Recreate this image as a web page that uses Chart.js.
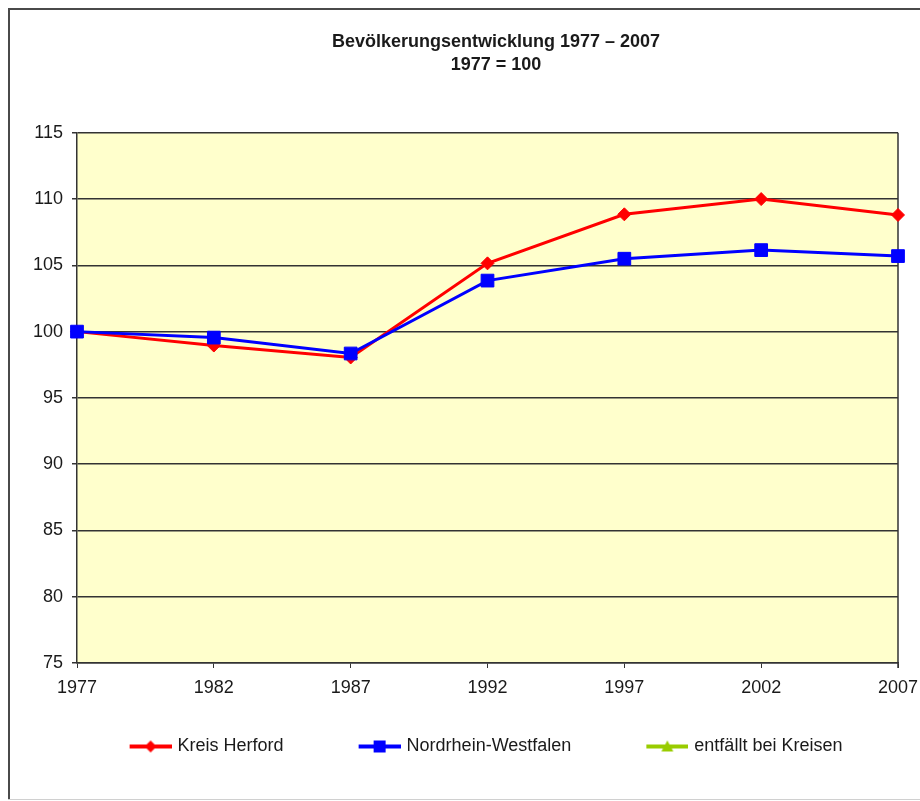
<!DOCTYPE html>
<html>
<head>
<meta charset="utf-8">
<script src="https://cdn.jsdelivr.net/npm/chart.js@4.4.1/dist/chart.umd.min.js"></script>
<style>
  html, body { margin: 0; padding: 0; background: #fff; }
  #wrap { width: 920px; height: 801px; }
</style>
</head>
<body>
<div id="wrap"><canvas id="chart-area" width="920" height="801"></canvas></div>
<script>
var years = ['1977', '1982', '1987', '1992', '1997', '2002', '2007'];
var herford = [100, 98.95, 98.05, 105.15, 108.85, 110.0, 108.8];
var nrw = [100, 99.55, 98.35, 103.85, 105.5, 106.15, 105.7];
var kreiseNone = [];
var seriesNames = ['Kreis Herford', 'Nordrhein-Westfalen', 'entfällt bei Kreisen'];
var yTicks = { min: 75, max: 115, step: 5 };

var colors = {
    red: '#ff0000',
    blue: '#0000ff',
    green: '#99cc00',
    grid: '#333333',
    plot: '#ffffcc',
    text: '#1a1a1a'
};

var FONT = "'Liberation Sans', Arial, sans-serif";
var GAP = 64;      // transparent space in front of each legend marker
var MARK_W = 42;   // visible legend line length

// legend marker: line with symbol in the middle
function legendMarker(color, shape) {
    var c = document.createElement('canvas');
    c.width = GAP + MARK_W + 6;
    c.height = 16;
    var g = c.getContext('2d');
    var y = 8, x0 = GAP + 6, cx = x0 + MARK_W / 2;
    g.strokeStyle = color;
    g.lineWidth = 4;
    g.beginPath();
    g.moveTo(x0, y);
    g.lineTo(x0 + MARK_W, y);
    g.stroke();
    g.fillStyle = color;
    g.beginPath();
    if (shape === 'diamond') {
        g.moveTo(cx, y - 6); g.lineTo(cx + 6, y); g.lineTo(cx, y + 6); g.lineTo(cx - 6, y);
    } else if (shape === 'square') {
        g.rect(cx - 6, y - 6, 12, 12);
    } else {
        g.moveTo(cx, y - 6); g.lineTo(cx + 6, y + 5); g.lineTo(cx - 6, y + 5);
    }
    g.closePath();
    g.fill();
    return c;
}
var markers = [
    legendMarker(colors.red, 'diamond'),
    legendMarker(colors.blue, 'square'),
    legendMarker(colors.green, 'triangle')
];

// frame, plot background and plot border
var framePlugin = {
    id: 'frame',
    afterLayout: function (chart) {
        // Excel centres title and legend over the plot area
        var t = chart.titleBlock;
        t.left += 28; t.right += 28;
        var l = chart.legend;
        l.left -= 15.5; l.right -= 15.5;
    },
    beforeDraw: function (chart) {
        var ctx = chart.ctx, a = chart.chartArea;
        ctx.save();
        ctx.fillStyle = '#ffffff';
        ctx.fillRect(0, 0, chart.width, chart.height);
        ctx.fillStyle = '#4a4a4a';
        ctx.fillRect(8, 8, chart.width - 8, 2);
        ctx.fillRect(8, 8, 2, chart.height - 10);
        ctx.fillStyle = '#d0d0d0';
        ctx.fillRect(8, chart.height - 2, chart.width - 8, 1);
        ctx.fillStyle = colors.plot;
        ctx.fillRect(a.left, a.top, a.right - a.left, a.bottom - a.top);
        ctx.restore();
    },
    beforeDatasetsDraw: function (chart) {
        var ctx = chart.ctx, a = chart.chartArea;
        ctx.save();
        ctx.strokeStyle = colors.grid;
        ctx.lineWidth = 1.5;
        ctx.beginPath();
        ctx.moveTo(a.right, a.top);
        ctx.lineTo(a.right, a.bottom + 5);
        ctx.stroke();
        ctx.restore();
    }
};

var config = {
    type: 'line',
    data: {
        labels: years,
        datasets: [{
            label: seriesNames[0],
            data: herford,
            borderColor: colors.red,
            backgroundColor: colors.red,
            borderWidth: 3,
            pointStyle: 'rectRot',
            pointRadius: 6.5,
            pointBorderWidth: 1,
            pointHoverRadius: 6.5,
            tension: 0,
            order: 2
        }, {
            label: seriesNames[1],
            data: nrw,
            borderColor: colors.blue,
            backgroundColor: colors.blue,
            borderWidth: 3,
            pointStyle: 'rect',
            pointRadius: 9,
            pointBorderWidth: 1,
            pointHoverRadius: 9,
            tension: 0,
            order: 1
        }, {
            label: seriesNames[2],
            data: kreiseNone,
            borderColor: colors.green,
            backgroundColor: colors.green,
            borderWidth: 3,
            pointStyle: 'triangle',
            pointRadius: 6,
            order: 3
        }]
    },
    options: {
        responsive: false,
        animation: false,
        devicePixelRatio: 1,
        layout: {
            padding: { top: 30, left: 20, right: 4, bottom: 35.5 }
        },
        plugins: {
            title: {
                display: true,
                text: ['Bevölkerungsentwicklung 1977 – 2007', '1977 = 100'],
                color: colors.text,
                font: { family: FONT, size: 18, weight: 'bold', lineHeight: 1.3 },
                padding: { top: 0, bottom: 56 }
            },
            legend: {
                position: 'bottom',
                labels: {
                    usePointStyle: true,
                    pointStyleWidth: GAP + MARK_W,
                    padding: 8,
                    color: colors.text,
                    font: { family: FONT, size: 18 },
                    sort: function (a, b) { return a.datasetIndex - b.datasetIndex; },
                    generateLabels: function (chart) {
                        var items = Chart.defaults.plugins.legend.labels.generateLabels(chart);
                        items.forEach(function (it) {
                            it.pointStyle = markers[it.datasetIndex];
                        });
                        return items;
                    }
                }
            },
            tooltip: { enabled: false }
        },
        scales: {
            x: {
                offset: false,
                afterFit: function (s) {
                    s.height = 66.5;
                    s.paddingRight = 22;
                    s.paddingLeft = 0;
                },
                grid: {
                    drawOnChartArea: false,
                    drawTicks: true,
                    tickLength: 5,
                    color: colors.grid
                },
                border: { color: colors.grid, width: 1.5 },
                ticks: {
                    padding: 9,
                    maxRotation: 0,
                    color: colors.text,
                    font: { family: FONT, size: 18 }
                }
            },
            y: {
                min: yTicks.min,
                max: yTicks.max,
                afterFit: function (s) { s.width = 57; },
                grid: {
                    color: colors.grid,
                    lineWidth: 1.5,
                    tickLength: 5
                },
                border: { color: colors.grid, width: 1.5 },
                ticks: {
                    stepSize: yTicks.step,
                    padding: 9,
                    color: colors.text,
                    font: { family: FONT, size: 18 }
                }
            }
        }
    },
    plugins: [framePlugin]
};

var ctx = document.getElementById('chart-area').getContext('2d');
var chart = new Chart(ctx, config);
</script>
</body>
</html>
